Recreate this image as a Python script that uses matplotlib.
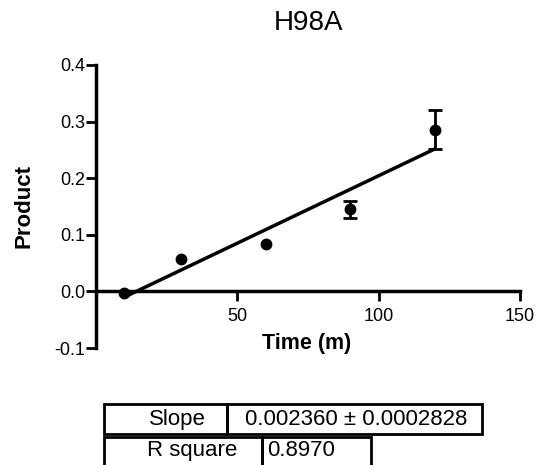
import numpy as np
import matplotlib
matplotlib.use("Agg")
import matplotlib.pyplot as plt
from matplotlib.patches import Rectangle

plt.rcParams['font.family'] = ['Liberation Sans', 'DejaVu Sans']

# data
time = np.array([10, 30, 60, 90, 120])
product = np.array([-0.003, 0.058, 0.083, 0.145, 0.286])
product_err = np.array([0.0, 0.0, 0.0, 0.015, 0.035])

x_ticks = [50, 100, 150]
y_ticks = [-0.1, 0.0, 0.1, 0.2, 0.3, 0.4]
y_ticklabels = ["-0.1", "0.0", "0.1", "0.2", "0.3", "0.4"]

table_rows = [("Slope", "0.002360 \u00b1 0.0002828"),
              ("R square", "0.8970")]

W, H = 548, 465
fig = plt.figure(figsize=(W / 100, H / 100), dpi=100)


def fx(px):
    return px / W


def fy(py):
    return 1 - py / H


ax = fig.add_axes([fx(96), fy(348), fx(520) - fx(96), fy(65) - fy(348)])

# linear fit
slope, icpt = np.polyfit(time, product, 1)
xf = np.array([time.min(), time.max()])
ax.plot(xf, slope * xf + icpt, color='black', lw=2.5, zorder=2)

# error bars only where they stick out of the marker
m = product_err > 0
ax.errorbar(time[m], product[m], yerr=product_err[m], fmt='none', ecolor='black',
            capsize=5, elinewidth=2, capthick=2, zorder=3)
ax.plot(time, product, 'o', color='black', ms=7.5, zorder=4)

ax.set_xlim(0, 150)
ax.set_ylim(-0.1, 0.4)
ax.spines['top'].set_visible(False)
ax.spines['right'].set_visible(False)
ax.spines['bottom'].set_position(('data', 0))
for s in ('left', 'bottom'):
    ax.spines[s].set_linewidth(2.5)
ax.set_xticks(x_ticks)
ax.set_yticks(y_ticks)
ax.set_yticklabels(y_ticklabels)
ax.tick_params(direction='out', length=7, width=2, labelsize=13)
ax.tick_params(axis='x', pad=5)
ax.tick_params(axis='y', pad=1)

fig.text(fx(308), fy(23), "H98A", fontsize=20, ha='center', va='center')
fig.text(fx(307), fy(343), "Time (m)", fontsize=15.5, fontweight='bold',
         ha='center', va='center')
fig.text(fx(24), fy(206), "Product", fontsize=16, fontweight='bold',
         ha='center', va='center', rotation=90)

# results table below the plot
cells = [[(104, 227, 404, 434), (227, 482, 404, 434)],
         [(104, 262, 437, 470), (262, 371, 437, 470)]]
text_pos = [[(177, 419), (245, 419)], [(192, 450), (267, 450)]]
for r, row in enumerate(table_rows):
    for c, label in enumerate(row):
        x0, x1, y0, y1 = cells[r][c]
        fig.patches.append(Rectangle((fx(x0), fy(y1)), fx(x1) - fx(x0),
                                     fy(y0) - fy(y1), transform=fig.transFigure,
                                     fill=False, lw=2, ec='black'))
        tx, ty = text_pos[r][c]
        fig.text(fx(tx), fy(ty), label, fontsize=16,
                 ha='center' if c == 0 else 'left', va='center')

fig.savefig("out.png", dpi=100)
